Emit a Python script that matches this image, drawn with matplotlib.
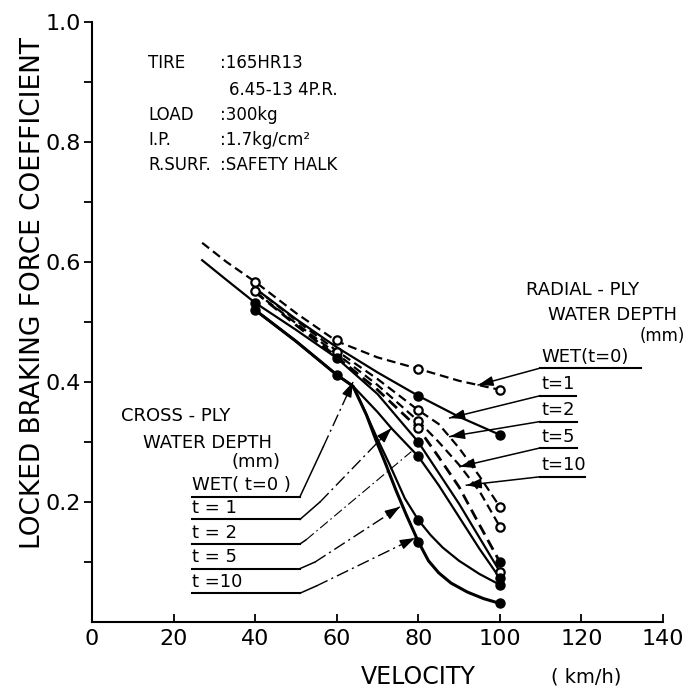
import numpy as np
import matplotlib.pyplot as plt

# velocities (km/h) and locked braking force coefficients
# radial-ply tyre
r_wet_v = [27, 33, 40, 50, 60, 70, 80, 90, 100]
r_wet_c = [0.632, 0.600, 0.567, 0.515, 0.468, 0.441, 0.422, 0.402, 0.387]
r_t1_v = [40, 50, 60, 70, 80, 90, 100]
r_t1_c = [0.556, 0.505, 0.458, 0.416, 0.377, 0.342, 0.312]
r_t2_v = [40, 50, 60, 70, 80, 85, 90, 95, 100]
r_t2_c = [0.556, 0.503, 0.452, 0.405, 0.353, 0.330, 0.290, 0.243, 0.192]
r_t5_v = [40, 50, 60, 70, 80, 85, 90, 95, 100]
r_t5_c = [0.550, 0.498, 0.447, 0.395, 0.335, 0.300, 0.262, 0.218, 0.159]
r_t10_v = [40, 50, 60, 70, 80, 85, 90, 95, 100]
r_t10_c = [0.550, 0.495, 0.442, 0.387, 0.323, 0.275, 0.225, 0.162, 0.100]

# cross-ply tyre
c_wet_v = [27, 33, 40, 50, 60, 70, 80, 90, 100]
c_wet_c = [0.603, 0.570, 0.532, 0.487, 0.440, 0.380, 0.300, 0.197, 0.084]
c_t1_v = [40, 50, 60, 64, 70, 73.4, 80, 85, 90, 95, 100]
c_t1_c = [0.520, 0.468, 0.412, 0.393, 0.350, 0.323, 0.276, 0.228, 0.175, 0.122, 0.073]
c_t5_v = [40, 50, 60, 64, 67, 70, 73, 76.7, 80, 83, 86, 90, 95, 100]
c_t5_c = [0.520, 0.468, 0.412, 0.393, 0.350, 0.305, 0.262, 0.206, 0.170, 0.145, 0.124, 0.102, 0.080, 0.062]
c_t10_v = [40, 50, 60, 64, 67.3, 69.8, 71.8, 74.5, 77.1, 80, 82.5, 85, 88, 92, 96, 100]
c_t10_c = [0.520, 0.468, 0.412, 0.393, 0.345, 0.300, 0.267, 0.220, 0.178, 0.134, 0.102, 0.082, 0.065, 0.050, 0.039, 0.031]

# measured points
open_v = [40, 40, 60, 60, 80, 80, 80, 80, 100, 100, 100, 100]
open_c = [0.567, 0.551, 0.470, 0.450, 0.422, 0.353, 0.335, 0.323, 0.387, 0.192, 0.159, 0.084]
fill_v = [40, 40, 60, 60, 80, 80, 80, 80, 80, 100, 100, 100, 100, 100]
fill_c = [0.532, 0.520, 0.440, 0.412, 0.377, 0.300, 0.276, 0.170, 0.134, 0.312, 0.100, 0.073, 0.062, 0.031]

info_keys = ["TIRE", "", "LOAD", "I.P.", "R.SURF."]
info_vals = [":165HR13", "6.45-13 4P.R.", ":300kg", ":1.7kg/cm²", ":SAFETY HALK"]

radial_labels = ["WET(t=0)", "t=1", "t=2", "t=5", "t=10"]
cross_labels = ["WET( t=0 )", "t = 1", "t = 2", "t = 5", "t =10"]

fig = plt.figure(figsize=(6.88, 6.98), dpi=100)
ax = fig.add_axes([92/688, 76/698, 571/688, 600/698])
ax.set_xlim(0, 140)
ax.set_ylim(0, 1.0)

dash = (0, (4, 2.2))
lw = 1.6
ax.plot(r_wet_v, r_wet_c, color='k', lw=lw, ls=dash)
ax.plot(r_t1_v, r_t1_c, color='k', lw=lw)
ax.plot(r_t2_v, r_t2_c, color='k', lw=lw, ls=dash)
ax.plot(r_t5_v, r_t5_c, color='k', lw=lw, ls=dash)
ax.plot(r_t10_v, r_t10_c, color='k', lw=lw + 0.4, ls=dash)
ax.plot(c_wet_v, c_wet_c, color='k', lw=lw)
ax.plot(c_t1_v, c_t1_c, color='k', lw=lw)
ax.plot(c_t5_v, c_t5_c, color='k', lw=lw)
ax.plot(c_t10_v, c_t10_c, color='k', lw=lw + 0.6)

ax.plot(open_v, open_c, 'o', ms=6, mfc='white', mec='k', mew=1.6, ls='none')
ax.plot(fill_v, fill_c, 'o', ms=6.5, mfc='k', mec='k', ls='none')

# axes styling
for s in ['top', 'right']:
    ax.spines[s].set_visible(False)
for s in ['left', 'bottom']:
    ax.spines[s].set_linewidth(1.5)
ax.set_xticks(range(0, 141, 20))
ax.set_yticks([0.2, 0.4, 0.6, 0.8, 1.0])
ax.set_yticklabels(['0.2', '0.4', '0.6', '0.8', '1.0'])
ax.set_yticks(np.arange(0.1, 1.0, 0.2), minor=True)
ax.tick_params(axis='x', direction='in', length=6, width=1.3, pad=5, labelsize=16)
ax.tick_params(axis='y', which='both', direction='out', length=6, width=1.3, pad=2, labelsize=16)

fig.text(33/688, 1 - 293/698, "LOCKED BRAKING FORCE COEFFICIENT", rotation=90,
         ha='center', va='center', fontsize=19)
fig.text(418/688, 1 - 677/698, "VELOCITY", ha='center', va='center', fontsize=17)
fig.text(586/688, 1 - 677/698, "( km/h)", ha='center', va='center', fontsize=14)

# tyre info block
info_y = [0.931, 0.887, 0.845, 0.803, 0.762]
for k, val, yy in zip(info_keys, info_vals, info_y):
    ax.text(13.8, yy, k, fontsize=12, va='center')
    ax.text(31.4 if val.startswith(':') else 33.6, yy, val, fontsize=12, va='center')


def head(x0, y0, x1, y1):
    p0 = ax.transData.transform((x0, y0))
    p1 = ax.transData.transform((x1, y1))
    d = (p1 - p0) / np.hypot(*(p1 - p0))
    xb, yb = ax.transData.inverted().transform(p1 - d * 11)
    ax.annotate('', xy=(x1, y1), xytext=(xb, yb),
                arrowprops=dict(arrowstyle='-|>,head_length=0.9,head_width=0.3',
                                color='k', lw=1.0, shrinkA=0, shrinkB=0))


# radial-ply legend
ax.text(120.2, 0.553, "RADIAL - PLY", ha='center', va='center', fontsize=13)
ax.text(127.5, 0.512, "WATER DEPTH", ha='center', va='center', fontsize=13, clip_on=False)
ax.text(145.3, 0.477, "(mm)", ha='right', va='center', fontsize=12, clip_on=False)
r_ul = [0.423, 0.377, 0.334, 0.290, 0.242]
r_ul_end = [134.7, 118.6, 119.0, 119.0, 120.8]
r_tip = [(94.7, 0.395), (87.7, 0.340), (87.7, 0.309), (90.2, 0.259), (91.8, 0.228)]
for lab, y, xe, (tx, ty) in zip(radial_labels, r_ul, r_ul_end, r_tip):
    ax.text(110.3, y + 0.004, lab, ha='left', va='bottom', fontsize=13)
    ax.plot([109.8, xe], [y, y], color='k', lw=1.5)
    ax.plot([109.8, tx], [y, ty], color='k', lw=1.1)
    head(109.8, y, tx, ty)

# cross-ply legend
ax.text(20.5, 0.343, "CROSS - PLY", ha='center', va='center', fontsize=13)
ax.text(28.2, 0.298, "WATER DEPTH", ha='center', va='center', fontsize=13)
ax.text(40.2, 0.267, "(mm)", ha='center', va='center', fontsize=13)
c_ul = [0.209, 0.171, 0.130, 0.089, 0.048]
c_knee = [(56.7, 0.292), (55.9, 0.200), (52.5, 0.137), (54.7, 0.100), (55.0, 0.060)]
c_tip = [(64.0, 0.400), (73.4, 0.323), (78.3, 0.284), (75.5, 0.192), (79.2, 0.140)]
dashdot = (0, (9, 3, 1.5, 3))
for i, (lab, y, (kx, ky), (tx, ty)) in enumerate(zip(cross_labels, c_ul, c_knee, c_tip)):
    ax.text(24.4, y + 0.004, lab, ha='left', va='bottom', fontsize=13)
    ax.plot([24.4, 51.0], [y, y], color='k', lw=1.5)
    ax.plot([51.0, kx], [y, ky], color='k', lw=1.1)
    ax.plot([kx, tx], [ky, ty], color='k', lw=0.8 if i == 2 else 1.0, ls=dashdot)
    if i != 2:
        head(kx, ky, tx, ty)

fig.savefig('out.png', dpi=100)
